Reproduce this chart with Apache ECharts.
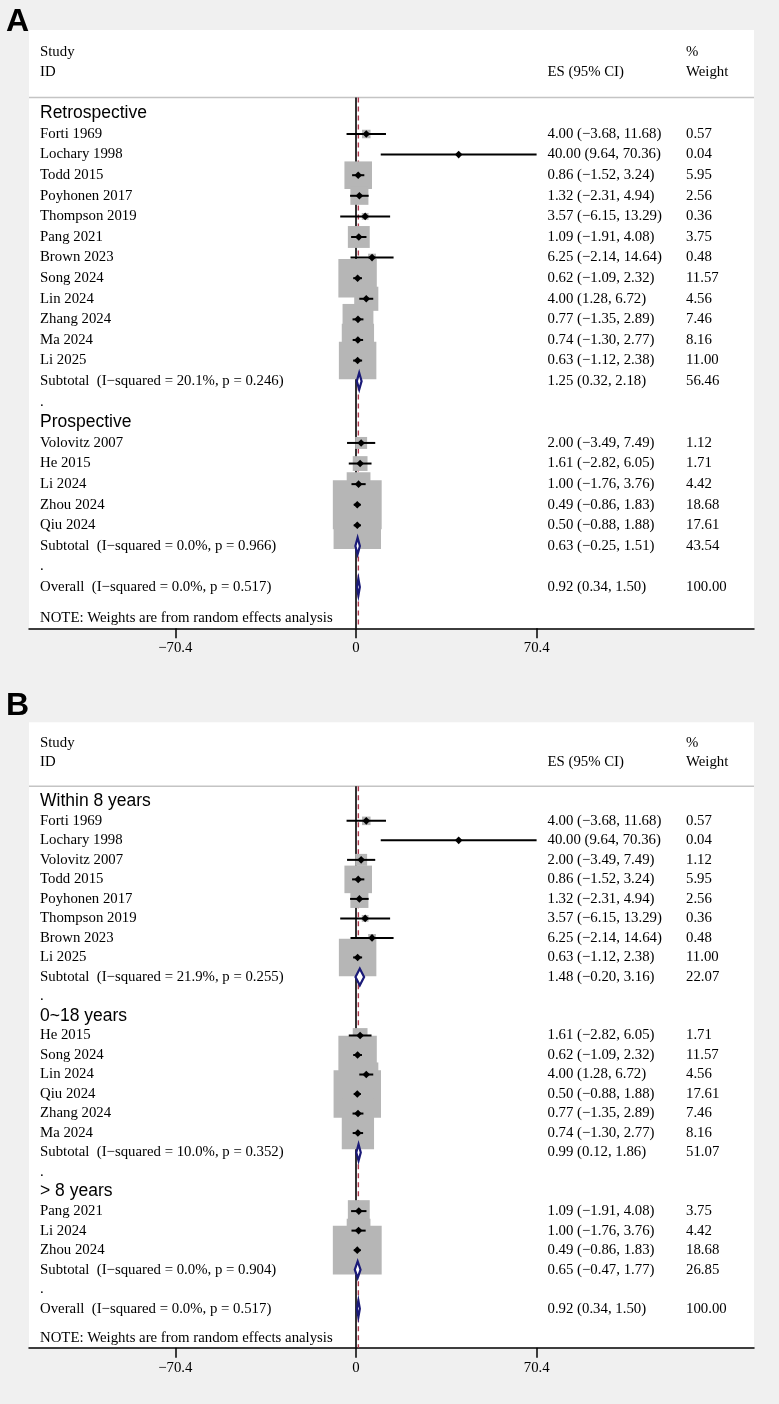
<!DOCTYPE html>
<html>
<head>
<meta charset="utf-8">
<script src="https://cdn.jsdelivr.net/npm/echarts@6/dist/echarts.min.js"></script>
<style>
html,body{margin:0;padding:0;background:#f0f0f0;}
#c{width:779px;height:1404px;}
</style>
</head>
<body>
<div id="c"></div>
<script>
// ---------------- DATA ----------------
const studyNames  = ['Forti 1969','Lochary 1998','Todd 2015','Poyhonen 2017','Thompson 2019','Pang 2021','Brown 2023','Song 2024','Lin 2024','Zhang 2024','Ma 2024','Li 2025','Volovitz 2007','He 2015','Li 2024','Zhou 2024','Qiu 2024'];
const studyES     = [4.00, 40.00, 0.86, 1.32, 3.57, 1.09, 6.25, 0.62, 4.00, 0.77, 0.74, 0.63, 2.00, 1.61, 1.00, 0.49, 0.50];
const studyLower  = [-3.68, 9.64, -1.52, -2.31, -6.15, -1.91, -2.14, -1.09, 1.28, -1.35, -1.30, -1.12, -3.49, -2.82, -1.76, -0.86, -0.88];
const studyUpper  = [11.68, 70.36, 3.24, 4.94, 13.29, 4.08, 14.64, 2.32, 6.72, 2.89, 2.77, 2.38, 7.49, 6.05, 3.76, 1.83, 1.88];
const studyWeight = [0.57, 0.04, 5.95, 2.56, 0.36, 3.75, 0.48, 11.57, 4.56, 7.46, 8.16, 11.00, 1.12, 1.71, 4.42, 18.68, 17.61];

// Panel A subgroups
const groupLabelsA   = ['Retrospective', 'Prospective'];
const groupMembersA  = [
  ['Forti 1969','Lochary 1998','Todd 2015','Poyhonen 2017','Thompson 2019','Pang 2021','Brown 2023','Song 2024','Lin 2024','Zhang 2024','Ma 2024','Li 2025'],
  ['Volovitz 2007','He 2015','Li 2024','Zhou 2024','Qiu 2024']
];
const subI2A     = [20.1, 0.0];
const subPA      = [0.246, 0.966];
const subESA     = [1.25, 0.63];
const subLowerA  = [0.32, -0.25];
const subUpperA  = [2.18, 1.51];
const subWeightA = [56.46, 43.54];

// Panel B subgroups
const groupLabelsB   = ['Within 8 years', '0~18 years', '> 8 years'];
const groupMembersB  = [
  ['Forti 1969','Lochary 1998','Volovitz 2007','Todd 2015','Poyhonen 2017','Thompson 2019','Brown 2023','Li 2025'],
  ['He 2015','Song 2024','Lin 2024','Qiu 2024','Zhang 2024','Ma 2024'],
  ['Pang 2021','Li 2024','Zhou 2024']
];
const subI2B     = [21.9, 10.0, 0.0];
const subPB      = [0.255, 0.352, 0.904];
const subESB     = [1.48, 0.99, 0.65];
const subLowerB  = [-0.20, 0.12, -0.47];
const subUpperB  = [3.16, 1.86, 1.77];
const subWeightB = [22.07, 51.07, 26.85];

// Overall (same in both panels)
const overallI2 = 0.0;
const overallP = 0.517;
const overallES = 0.92;
const overallLower = 0.34;
const overallUpper = 1.50;
const overallWeight = 100.00;

const xTickValues = [-70.4, 0, 70.4];
const headerLabels = ['Study', 'ID', 'ES (95% CI)', '%', 'Weight'];
const noteText = 'NOTE: Weights are from random effects analysis';

// ---------------- STYLE ----------------
const SERIF = '"Liberation Serif","Times New Roman",serif';
const SANS  = '"Liberation Sans",Arial,sans-serif';
const FS = 14.8;
const GFS = 17.5;
const BOX_K = 11.3;
const GRAY_BOX = '#b6b6b6';
const NAVY = '#1a1a78';
const RED = '#ad3a4e';
const COL_STUDY = 11, COL_ES = 518.5, COL_W = 657;
const SEP_ROW = -0.77;

function fmt(v) { return v.toFixed(2).replace('-', '\u2212'); }
function het(i2, p) { return '  (I\u2212squared = ' + i2.toFixed(1) + '%, p = ' + p.toFixed(3) + ')'; }

function buildRows(labels, members, i2, p, es, lo, hi, w) {
  const rows = [];
  let r = 0;
  labels.forEach((lab, g) => {
    rows.push({kind: 'group', row: r++, label: lab});
    members[g].forEach(name => {
      const k = studyNames.indexOf(name);
      rows.push({kind: 'study', row: r++, label: name, es: studyES[k], lo: studyLower[k], hi: studyUpper[k], w: studyWeight[k]});
    });
    rows.push({kind: 'pooled', row: r++, label: 'Subtotal' + het(i2[g], p[g]), es: es[g], lo: lo[g], hi: hi[g], w: w[g]});
    rows.push({kind: 'dot', row: r++, label: '.'});
  });
  rows.push({kind: 'pooled', row: r++, label: 'Overall' + het(overallI2, overallP), es: overallES, lo: overallLower, hi: overallUpper, w: overallWeight});
  return {rows: rows, yMax: r + 1};
}

const panels = [
  buildRows(groupLabelsA, groupMembersA, subI2A, subPA, subESA, subLowerA, subUpperA, subWeightA),
  buildRows(groupLabelsB, groupMembersB, subI2B, subPB, subESB, subLowerB, subUpperB, subWeightB)
];
const gridTops = [30, 722.3];
const gridHeights = [598.3, 625.4];
const Y_MIN = -4.05;

const grids = [], xAxes = [], yAxes = [], series = [];

panels.forEach((P, pi) => {
  grids.push({left: 29, right: 25, top: gridTops[pi], height: gridHeights[pi], show: true, backgroundColor: '#ffffff', borderWidth: 0, containLabel: false});
  xAxes.push({
    type: 'value', gridIndex: pi, min: -127.4, max: 155.06,
    splitLine: {show: false},
    axisLine: {onZero: false, lineStyle: {color: '#000', width: 1.5}},
    axisTick: {show: true, length: 10, lineStyle: {color: '#000', width: 1.5}, customValues: xTickValues},
    axisLabel: {color: '#000', fontFamily: SERIF, fontSize: FS, margin: 12.5, customValues: xTickValues,
      formatter: v => String(v).replace('-', '\u2212')}
  });
  yAxes.push({type: 'value', gridIndex: pi, inverse: true, min: Y_MIN, max: P.yMax, show: false});

  const xi = pi, yi = pi;
  const yMax = P.yMax;

  // separator + reference lines
  series.push({
    type: 'custom', xAxisIndex: xi, yAxisIndex: yi, z: 1, silent: true,
    data: [[0, 0], [0, 1], [overallES, 2]],
    renderItem: function (params, api) {
      const kind = api.value(1);
      const cs = params.coordSys;
      if (kind === 0) {
        const y = api.coord([0, SEP_ROW])[1];
        return {type: 'line', shape: {x1: cs.x, y1: y, x2: cs.x + cs.width, y2: y}, style: {stroke: '#c4c4c4', lineWidth: 1.5}};
      }
      const a = api.coord([api.value(0), SEP_ROW]);
      const b = api.coord([api.value(0), yMax]);
      if (kind === 1) {
        return {type: 'line', shape: {x1: a[0], y1: a[1], x2: b[0], y2: b[1]}, style: {stroke: '#000', lineWidth: 1.6}};
      }
      return {type: 'line', shape: {x1: a[0], y1: a[1], x2: b[0], y2: b[1]}, style: {stroke: RED, lineWidth: 1.4, lineDash: [5, 4]}};
    }
  });

  const studies = P.rows.filter(r => r.kind === 'study');
  const pooled = P.rows.filter(r => r.kind === 'pooled');

  // weight boxes
  series.push({
    type: 'custom', xAxisIndex: xi, yAxisIndex: yi, z: 2, silent: true,
    data: studies.map(r => [r.es, r.row, r.w]),
    renderItem: function (params, api) {
      const c = api.coord([api.value(0), api.value(1)]);
      const s = BOX_K * Math.sqrt(api.value(2));
      return {type: 'rect', shape: {x: c[0] - s / 2, y: c[1] - s / 2, width: s, height: s}, style: {fill: GRAY_BOX}};
    }
  });

  // CI lines + point estimates
  series.push({
    type: 'custom', xAxisIndex: xi, yAxisIndex: yi, z: 3, silent: true,
    data: studies.map(r => [r.lo, r.hi, r.row, r.es]),
    renderItem: function (params, api) {
      const a = api.coord([api.value(0), api.value(2)]);
      const b = api.coord([api.value(1), api.value(2)]);
      const m = api.coord([api.value(3), api.value(2)]);
      const d = 3.8;
      return {type: 'group', children: [
        {type: 'line', shape: {x1: a[0], y1: a[1], x2: b[0], y2: b[1]}, style: {stroke: '#000', lineWidth: 2}},
        {type: 'polygon', shape: {points: [[m[0] - d, m[1]], [m[0], m[1] - d], [m[0] + d, m[1]], [m[0], m[1] + d]]}, style: {fill: '#000'}}
      ]};
    }
  });

  // pooled diamonds
  series.push({
    type: 'custom', xAxisIndex: xi, yAxisIndex: yi, z: 4, silent: true,
    data: pooled.map(r => [r.lo, r.hi, r.row, r.es]),
    renderItem: function (params, api) {
      const a = api.coord([api.value(0), api.value(2)]);
      const b = api.coord([api.value(1), api.value(2)]);
      const m = api.coord([api.value(3), api.value(2)]);
      const h = 8.3;
      return {type: 'polygon', shape: {points: [[a[0], a[1]], [m[0], m[1] - h], [b[0], b[1]], [m[0], m[1] + h]]},
        style: {fill: '#fff', stroke: NAVY, lineWidth: 2.2}};
    }
  });

  // text items
  const texts = [];
  texts.push({row: -3, col: COL_STUDY, str: headerLabels[0], font: SERIF, size: FS});
  texts.push({row: -2, col: COL_STUDY, str: headerLabels[1], font: SERIF, size: FS});
  texts.push({row: -2, col: COL_ES, str: headerLabels[2], font: SERIF, size: FS});
  texts.push({row: -3, col: COL_W, str: headerLabels[3], font: SERIF, size: FS});
  texts.push({row: -2, col: COL_W, str: headerLabels[4], font: SERIF, size: FS});
  P.rows.forEach(r => {
    if (r.kind === 'group') {
      texts.push({row: r.row, col: COL_STUDY, str: r.label, font: SANS, size: GFS});
    } else if (r.kind === 'dot') {
      texts.push({row: r.row, col: COL_STUDY, str: r.label, font: SERIF, size: FS});
    } else {
      texts.push({row: r.row, col: COL_STUDY, str: r.label, font: SERIF, size: FS});
      texts.push({row: r.row, col: COL_ES, str: fmt(r.es) + ' (' + fmt(r.lo) + ', ' + fmt(r.hi) + ')', font: SERIF, size: FS});
      texts.push({row: r.row, col: COL_W, str: r.w.toFixed(2), font: SERIF, size: FS});
    }
  });
  texts.push({row: yMax - 0.5, col: COL_STUDY, str: noteText, font: SERIF, size: FS});

  series.push({
    type: 'custom', xAxisIndex: xi, yAxisIndex: yi, z: 5, silent: true,
    data: texts.map(t => [0, t.row]),
    renderItem: function (params, api) {
      const t = texts[params.dataIndex];
      const y = api.coord([0, api.value(1)])[1];
      return {type: 'text', x: params.coordSys.x + t.col, y: y,
        style: {text: t.str, fill: '#000', font: t.size + 'px ' + t.font, textAlign: 'left', textVerticalAlign: 'middle'}};
    }
  });
});

const chart = echarts.init(document.getElementById('c'), null, {renderer: 'canvas'});
chart.setOption({
  backgroundColor: '#f0f0f0',
  animation: false,
  grid: grids,
  xAxis: xAxes,
  yAxis: yAxes,
  series: series,
  graphic: [
    {type: 'text', x: 6, y: 22.5, style: {text: 'A', fill: '#000', font: 'bold 32px ' + SANS, textVerticalAlign: 'middle'}},
    {type: 'text', x: 6, y: 706.5, style: {text: 'B', fill: '#000', font: 'bold 32px ' + SANS, textVerticalAlign: 'middle'}}
  ]
});
</script>
</body>
</html>
